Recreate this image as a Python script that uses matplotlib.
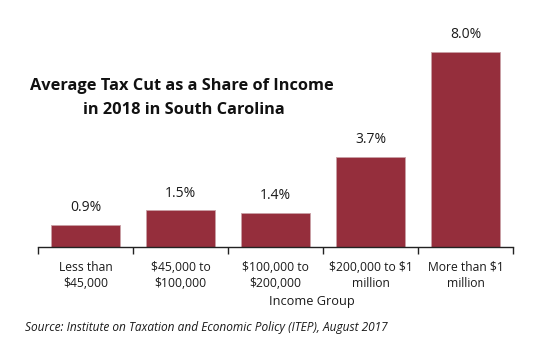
import matplotlib
matplotlib.use("Agg")
import matplotlib.pyplot as plt
import numpy as np

categories = ["Less than\n\\$45,000", "\\$45,000 to\n\\$100,000", "\\$100,000 to\n\\$200,000",
              "\\$200,000 to \\$1\nmillion", "More than \\$1\nmillion"]
values = [0.9, 1.5, 1.4, 3.7, 8.0]
value_labels = ["0.9%", "1.5%", "1.4%", "3.7%", "8.0%"]
title_lines = ["Average Tax Cut as a Share of Income", "in 2018 in South Carolina"]

plt.rcParams['font.family'] = ['Open Sans', 'DejaVu Sans']

fig = plt.figure(figsize=(5.35, 3.6), dpi=100)
ax = fig.add_axes([38/535, 1-247/360, (513-38)/535, (247-52)/360])

x = np.arange(len(values))
bars = ax.bar(x, values, width=0.73, color='#952E3C', edgecolor='#c9a0a6', linewidth=0.6)
ax.set_xlim(-0.5, len(values)-0.5)
ax.set_ylim(0, 8.0)

for xi, v, lab in zip(x, values, value_labels):
    ax.annotate(lab, (xi, v), xytext=(0, 7), textcoords='offset points',
                ha='center', va='bottom', fontsize=10, color='#1a1a1a', annotation_clip=False)

for s in ['top', 'right', 'left']:
    ax.spines[s].set_visible(False)
ax.spines['bottom'].set_color('#222222')
ax.spines['bottom'].set_linewidth(1.0)
ax.set_yticks([])
ax.set_xticks(x)
ax.set_xticklabels(categories, fontsize=8.7, color='#1a1a1a', linespacing=1.3)
ax.tick_params(axis='x', which='major', length=0, pad=10)
ax.set_xticks(np.arange(-0.5, len(values), 1.0), minor=True)
ax.tick_params(axis='x', which='minor', length=5, width=1.0, color='#222222', direction='out')

fig.text(312/535, 1-302/360, "Income Group", ha='center', va='center', fontsize=9.2, color='#1a1a1a')
fig.text(182/535, 1-90/360, title_lines[0],
         ha='center', va='baseline', fontsize=11.8, fontweight='bold', color='#111111')
fig.text(184/535, 1-114/360, title_lines[1],
         ha='center', va='baseline', fontsize=11.8, fontweight='bold', color='#111111')
fig.text(25/535, 1-327/360, "Source: Institute on Taxation and Economic Policy (ITEP), August 2017",
         ha='left', va='center', fontsize=8.6, style='italic', color='#1a1a1a')

fig.savefig("out.png", dpi=100)
